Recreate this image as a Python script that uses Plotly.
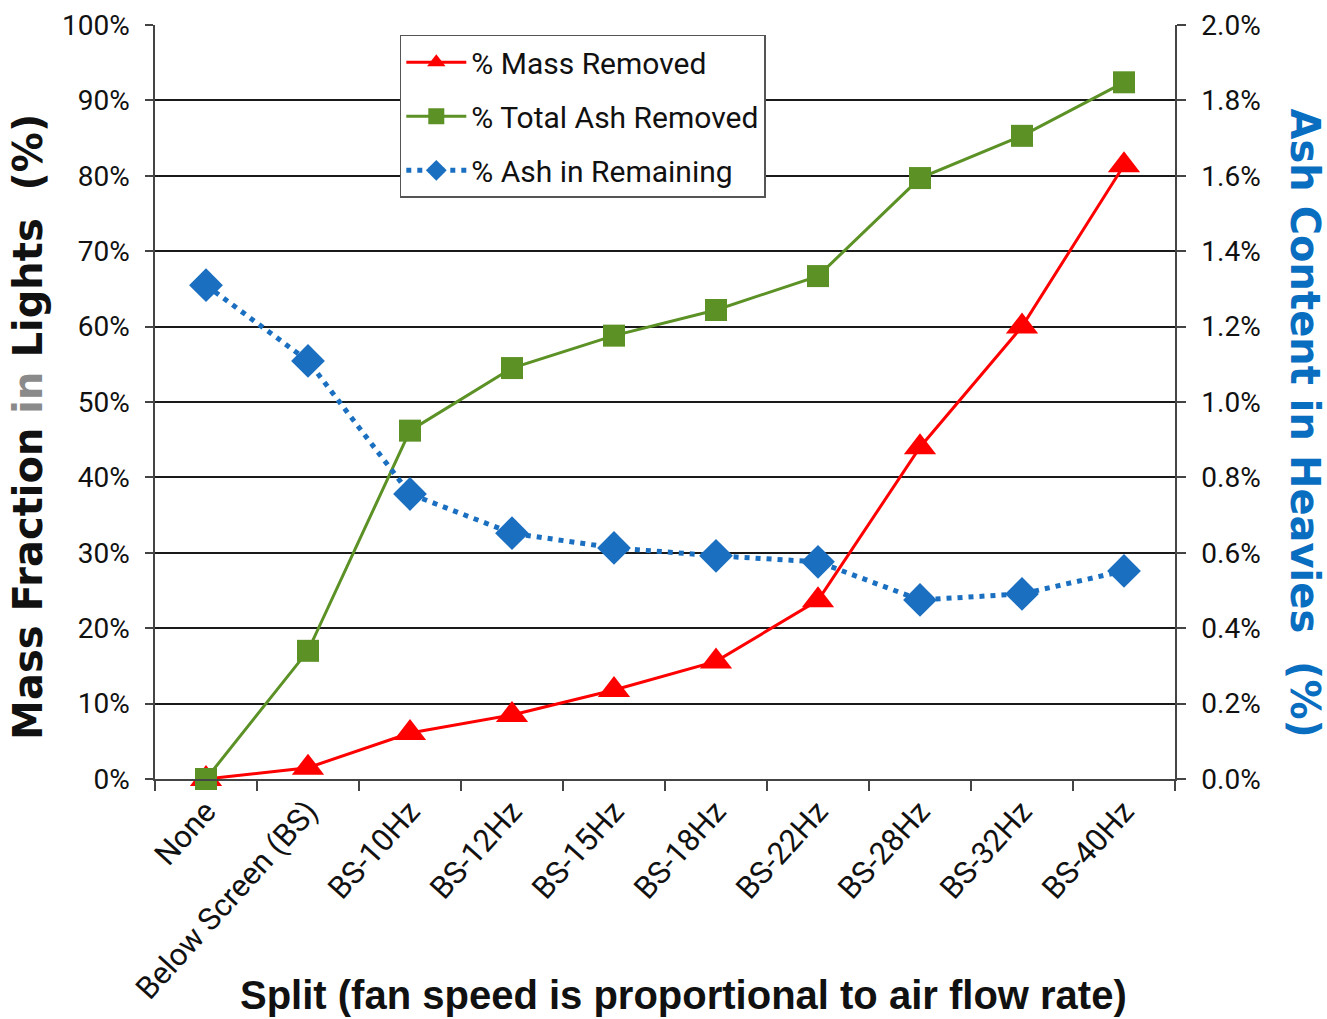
import plotly.graph_objects as go

categories = ["None", "Below Screen (BS)", "BS-10Hz", "BS-12Hz", "BS-15Hz",
              "BS-18Hz", "BS-22Hz", "BS-28Hz", "BS-32Hz", "BS-40Hz"]
mass_removed = [0.0, 1.5, 6.1, 8.5, 11.8, 15.6, 23.7, 44.0, 60.0, 81.4]
total_ash_removed = [0.0, 17.0, 46.2, 54.5, 58.8, 62.2, 66.7, 79.7, 85.3, 92.4]
ash_in_remaining = [1.31, 1.109, 0.756, 0.652, 0.613, 0.592, 0.576, 0.475, 0.491, 0.552]

left_ticks = list(range(0, 101, 10))
right_ticks = [0.0, 0.2, 0.4, 0.6, 0.8, 1.0, 1.2, 1.4, 1.6, 1.8, 2.0]

FONT = "Roboto, Liberation Sans, Arial, sans-serif"
BOLD = "DejaVu Sans, Liberation Sans, Arial, sans-serif"
XBOLD = "Liberation Sans, Arial, sans-serif"

fig = go.Figure()
fig.add_trace(go.Scatter(
    x=categories, y=mass_removed, name="% Mass Removed", mode="lines+markers",
    legendgroup="a",
    line=dict(color="#FF0000", width=3),
    marker=dict(symbol="triangle-up", size=28, color="#FF0000"),
    cliponaxis=False))
fig.add_trace(go.Scatter(
    x=categories, y=total_ash_removed, name="% Total Ash Removed", mode="lines+markers",
    legendgroup="b",
    line=dict(color="#5B9125", width=3),
    marker=dict(symbol="square", size=22, color="#5B9125"),
    cliponaxis=False))
fig.add_trace(go.Scatter(
    x=categories, y=ash_in_remaining, name="% Ash in Remaining", mode="lines+markers",
    yaxis="y2", legendgroup="c",
    line=dict(color="#1A6FC0", width=5, dash="5px,6px"),
    marker=dict(symbol="diamond", size=26, color="#1A6FC0"),
    cliponaxis=False))

fig.update_layout(
    width=1327, height=1019,
    margin=dict(l=155, r=152, t=25, b=240),
    paper_bgcolor="white", plot_bgcolor="white",
    font=dict(family=FONT, size=28, color="#111111"),
    showlegend=True,
    legend=dict(
        x=0.24, y=0.987, xanchor="left", yanchor="top",
        bgcolor="white", bordercolor="#555555", borderwidth=1.5,
        font=dict(family=FONT, size=30, color="#111111"),
        tracegroupgap=12, itemwidth=60),
    xaxis=dict(
        type="category", categoryorder="array", categoryarray=categories,
        range=[-0.5, 9.5], automargin=False,
        tickangle=-48, tickson="boundaries", ticks="outside", ticklen=10,
        tickcolor="#444444", tickwidth=1.5,
        showline=True, linecolor="#444444", linewidth=1.5,
        showgrid=False, tickfont=dict(family=FONT, size=31),
    ),
    yaxis=dict(
        range=[0, 100], tickvals=left_ticks, automargin=False,
        ticktext=[f"{v}%" for v in left_ticks],
        ticks="outside", ticklen=8, tickcolor="#444444", tickwidth=1.5,
        ticklabelstandoff=10,
        showline=True, linecolor="#444444", linewidth=1.5,
        showgrid=True, gridcolor="#1a1a1a", gridwidth=1.5,
        zeroline=False, tickfont=dict(family=FONT, size=28),
    ),
    yaxis2=dict(
        range=[0, 2.0], tickvals=right_ticks, automargin=False,
        ticktext=[f"{v:.1f}%" for v in right_ticks],
        overlaying="y", side="right",
        ticks="outside", ticklen=9, tickcolor="#444444", tickwidth=1.5,
        ticklabelstandoff=10,
        showline=True, linecolor="#444444", linewidth=1.5,
        showgrid=False, zeroline=False, tickfont=dict(family=FONT, size=28),
    ),
    annotations=[
        dict(text="<b>Split (fan speed is proportional to air flow rate)</b>",
             xref="paper", yref="paper", x=0.518, y=-0.286,
             xanchor="center", yanchor="middle", showarrow=False,
             font=dict(family=XBOLD, size=40, color="#111111")),
        dict(text="<b>Mass Fraction <span style='color:#8a8a8a'>in</span> Lights  (%)</b>",
             xref="paper", yref="paper", x=-0.1245, y=0.467, textangle=-90,
             xanchor="center", yanchor="middle", showarrow=False,
             font=dict(family=BOLD, size=40, color="#111111")),
        dict(text="<b>Ash Content in Heavies  (%)</b>",
             xref="paper", yref="paper", x=1.127, y=0.472, textangle=90,
             xanchor="center", yanchor="middle", showarrow=False,
             font=dict(family=BOLD, size=40, color="#0A6EC0")),
    ],
)

fig.write_html("out.html")
